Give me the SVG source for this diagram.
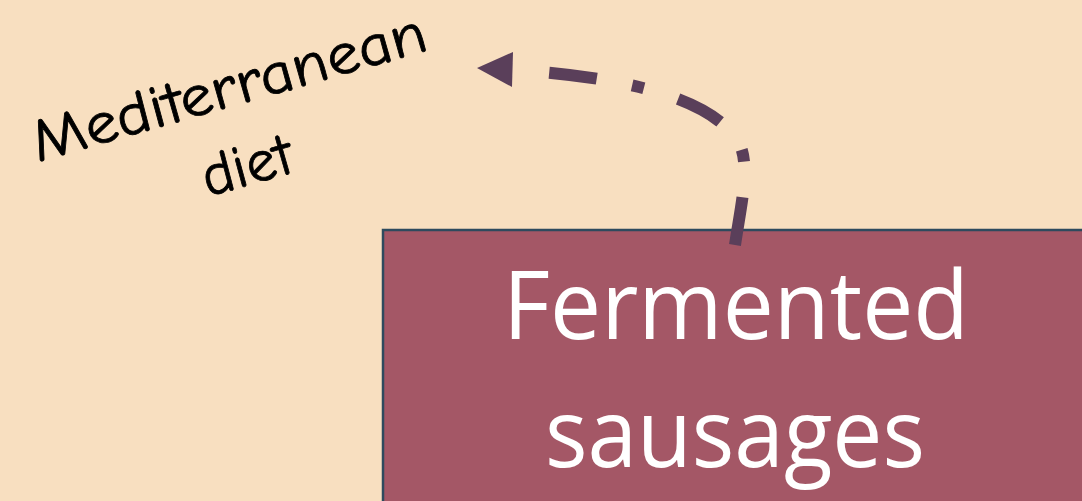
<svg xmlns="http://www.w3.org/2000/svg" width="1082" height="501" viewBox="0 0 1082 501">
<style>
.hand{font-family:"Comic Neue","DejaVu Sans",sans-serif;font-size:60px;fill:#000;stroke:#000;stroke-width:0.8;}
.box{fill:#A45766;stroke:#2E4A5E;stroke-width:2.5;}
.boxtxt{font-family:"Open Sans","Liberation Sans",sans-serif;font-size:96px;fill:#FFFFFF;text-anchor:middle;}
.conn{fill:none;stroke:#5A3F5A;stroke-width:12;stroke-dasharray:48 36 12 36;}
</style>
<rect width="1082" height="501" fill="#F8DFC0"/>
<g id="label-diet">
<text class="hand" transform="translate(38,162) rotate(-16)" textLength="408" lengthAdjust="spacingAndGlyphs">Mediterranean</text>
<text class="hand" transform="translate(208,197) rotate(-16)" textLength="92" lengthAdjust="spacingAndGlyphs">diet</text>
</g>
<g id="node-sausages">
<rect class="box" x="383" y="230" width="720" height="290"/>
<text class="boxtxt" x="736" y="339" textLength="466" lengthAdjust="spacingAndGlyphs">Fermented</text>
<text class="boxtxt" x="735" y="467" textLength="380" lengthAdjust="spacingAndGlyphs">sausages</text>
</g>
<g id="connectors">
<path class="conn" d="M735,245 C741,205 750,168 740,145 C718,103 640,78 515,70"/>
<polygon points="477,68 513,52 512,87" fill="#5A3F5A"/>
</g>
</svg>
